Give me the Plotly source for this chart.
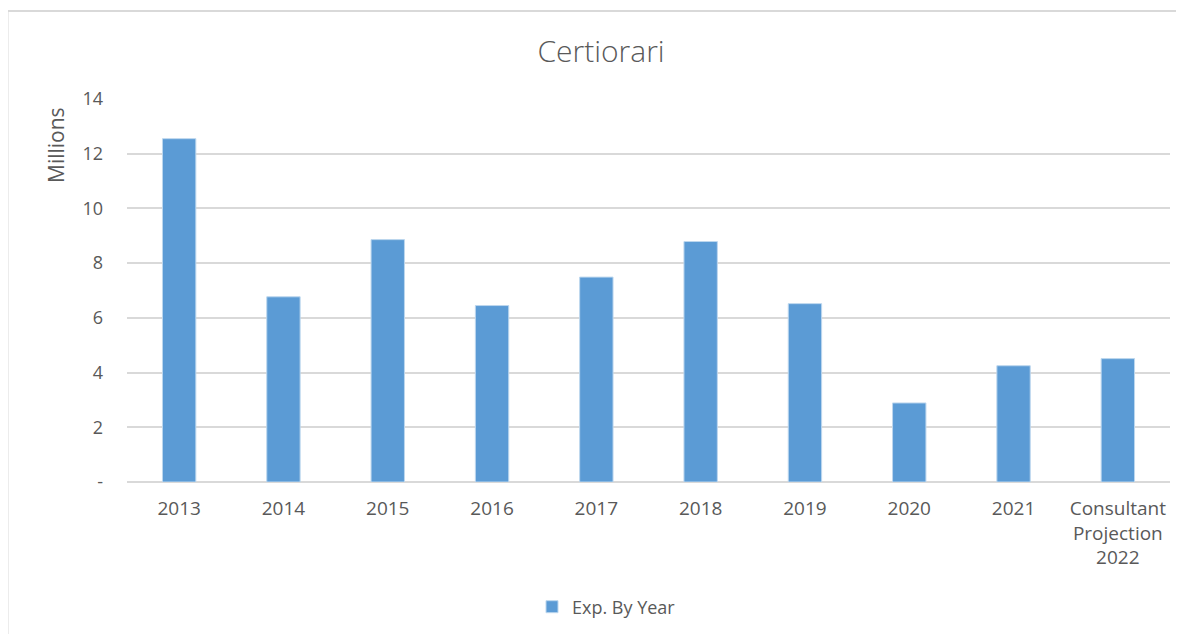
import plotly.graph_objects as go

categories = ["2013", "2014", "2015", "2016", "2017", "2018", "2019", "2020", "2021",
              "Consultant<br>Projection<br>2022"]
values = [12.55, 6.77, 8.86, 6.45, 7.49, 8.79, 6.52, 2.89, 4.25, 4.51]
tick_vals = [0, 2, 4, 6, 8, 10, 12, 14]
tick_text = ["-", "2", "4", "6", "8", "10", "12", "14"]

W, H = 1184, 634
OFF = 8  # page body margin
# target plot area in screen pixels
SX0, SX1, SY0, SY1 = 127, 1170, 99, 482
L = SX0 - OFF
R = W - (SX1 - OFF)
T = SY0 - OFF
B = H - (SY1 - OFF)

font = "Open Sans, Noto Sans, sans-serif"
grey = "#595959"

fig = go.Figure()
fig.add_trace(go.Bar(
    x=categories, y=values, name="Exp. By Year",
    marker=dict(color="#5B9BD5", line=dict(color="#BDD7EE", width=1)),
    width=0.32, showlegend=True,
))

def px_x(p):  # screen x -> paper
    return (p - SX0) / (SX1 - SX0)

def px_y(p):  # screen y -> paper
    return (SY1 - p) / (SY1 - SY0)

fig.update_layout(
    width=W, height=H,
    margin=dict(l=L, r=R, t=T, b=B),
    paper_bgcolor="white", plot_bgcolor="white",
    title=dict(text="Certiorari", xref="container", yref="container",
               x=(601 - OFF) / W, xanchor="center", y=1 - (51 - OFF) / H, yanchor="middle",
               font=dict(family=font, size=30, color=grey, weight=300)),
    font=dict(family=font, size=18, color=grey),
    xaxis=dict(showgrid=False, showline=False, ticks="", tickfont=dict(size=19, color=grey),
               ticklabelstandoff=13),
    yaxis=dict(range=[0, 14], tickvals=tick_vals, ticktext=tick_text,
               showgrid=True, gridcolor="#D9D9D9", gridwidth=1.5,
               zeroline=True, zerolinecolor="#D9D9D9", zerolinewidth=1.5,
               showline=False, ticks="", ticklabelstandoff=23,
               tickfont=dict(size=18, color=grey)),
    legend=dict(orientation="h", x=px_x(532), xanchor="left", y=px_y(607), yanchor="middle",
                font=dict(size=18, color=grey), itemwidth=30),
    annotations=[
        dict(text="Millions", xref="paper", yref="paper", x=px_x(56), y=px_y(145),
             xanchor="center", yanchor="middle", textangle=-90, showarrow=False,
             font=dict(family=font, size=21, color=grey)),
    ],
    shapes=[
        dict(type="line", xref="paper", yref="paper", x0=px_x(7.5), x1=px_x(1200),
             y0=px_y(11), y1=px_y(11), line=dict(color="#D9D9D9", width=2)),
        dict(type="line", xref="paper", yref="paper", x0=px_x(7.5), x1=px_x(7.5),
             y0=px_y(11), y1=px_y(650), line=dict(color="#D9D9D9", width=2)),
    ],
)

fig.write_html("out.html")
